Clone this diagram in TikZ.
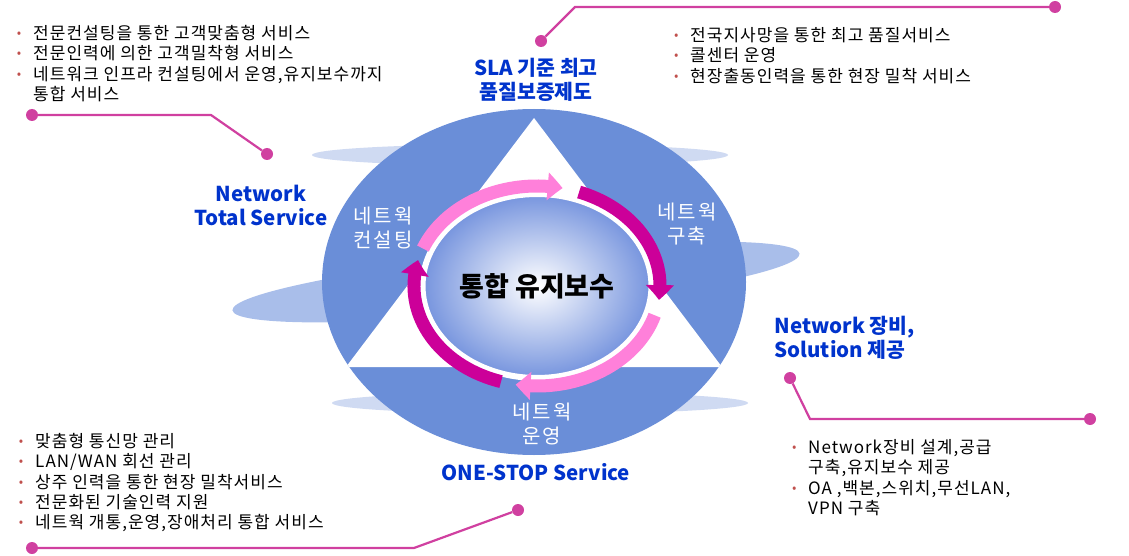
\documentclass[tikz,border=0pt]{standalone}
\usepackage{fontspec}
\setmainfont{Noto Sans CJK KR}
\newfontfamily\widefont[LetterSpace=6]{Noto Sans CJK KR}
\newfontfamily\labelfont[LetterSpace=10]{Noto Sans CJK KR}
\usetikzlibrary{shapes.geometric,arrows.meta,bending}
\definecolor{ringblue}{RGB}{106,142,216}
\definecolor{swooshblue}{RGB}{169,190,234}
\definecolor{paleblue}{RGB}{207,218,242}
\definecolor{corefade}{RGB}{118,148,222}
\definecolor{lightpink}{RGB}{255,128,218}
\definecolor{deepmagenta}{RGB}{204,0,153}
\definecolor{headblue}{RGB}{0,51,204}
\definecolor{calloutpink}{RGB}{208,64,160}
\definecolor{bulletred}{RGB}{192,80,77}
\newcommand\bul{\makebox[28pt]{\raisebox{2pt}{\textcolor{bulletred}{\fontsize{13}{13}\selectfont •}}}}
\begin{document}
\begin{tikzpicture}[x=1pt,y=-1pt,
  dot/.style={circle,fill=calloutpink,inner sep=0pt,minimum size=12pt},
  callout/.style={draw=calloutpink,line width=2.2pt},
  heading/.style={text=headblue,font=\fontsize{20.5}{24}\selectfont\bfseries,align=center},
  onblue/.style={text=white,font=\labelfont\fontsize{20}{24}\selectfont,align=center},
  bullets/.style={anchor=north west,inner sep=0pt,font=\widefont\fontsize{17}{20.3}\selectfont},
  cycarrow/.style={line width=13pt,-{Triangle[width=27pt,length=15pt,bend]}}]
\useasboundingbox (0,0) rectangle (1129,556);
% flat swooshes behind the ring
\fill[paleblue] (520,155) ellipse[x radius=208,y radius=11];
\fill[paleblue] (540,403) ellipse[x radius=208,y radius=11];
\fill[swooshblue,rotate around={5.7:(516,282)}] (516,282) ellipse[x radius=285,y radius=29];
\fill[ringblue] (534,282) ellipse[x radius=212,y radius=173];
\begin{scope}
\clip (534,282) ellipse[x radius=212,y radius=173];
\fill[white] (534,118) -- (346,367) -- (722,367) -- cycle;
\end{scope}
\node[ellipse,minimum width=226pt,minimum height=184pt,draw=white,line width=6pt,
      inner color=white,outer color=corefade,font=\fontsize{27}{30}\selectfont\bfseries]
      (core) at (537,286) {통합 유지보수};
\draw[cycarrow,lightpink] ([shift={(-158:123 and 100)}]core.center) arc[start angle=-158,end angle=-78,x radius=123,y radius=100];
\draw[cycarrow,deepmagenta] ([shift={(-70:123 and 100)}]core.center) arc[start angle=-70,end angle=8,x radius=123,y radius=100];
\draw[cycarrow,lightpink] ([shift={(17:123 and 100)}]core.center) arc[start angle=17,end angle=100,x radius=123,y radius=100];
\draw[cycarrow,deepmagenta] ([shift={(107:123 and 100)}]core.center) arc[start angle=107,end angle=195,x radius=123,y radius=100];
\path (383,228) node[onblue] (consult) {네트웍\\컨설팅}
      (687,224) node[onblue] (build) {네트웍\\구축}
      (542,424) node[onblue] (operate) {네트웍\\운영};
\path (536,80) node[heading] (sla) {SLA 기준 최고\\품질보증제도}
      (261,205) node[heading] (total) {Network\\Total Service}
      (771,338) node[heading,align=left,anchor=west] (equip) {Network 장비,\\Solution 제공}
      (536,472) node[heading] (onestop) {ONE-STOP Service};
\path (5,25) node[bullets] (consultlist) {\begin{tabular}{@{}l@{}l@{}}
        \bul & 전문컨설팅을 통한 고객맞춤형 서비스\\
        \bul & 전문인력에 의한 고객밀착형 서비스\\
        \bul & 네트워크 인프라 컨설팅에서 운영,유지보수까지\\
             & 통합 서비스
      \end{tabular}}
      (662,27) node[bullets] (slalist) {\begin{tabular}{@{}l@{}l@{}}
        \bul & 전국지사망을 통한 최고 품질서비스\\
        \bul & 콜센터 운영\\
        \bul & 현장출동인력을 통한 현장 밀착 서비스
      \end{tabular}}
      (7,433) node[bullets] (operlist) {\begin{tabular}{@{}l@{}l@{}}
        \bul & 맞춤형 통신망 관리\\
        \bul & LAN/WAN 회선 관리\\
        \bul & 상주 인력을 통한 현장 밀착서비스\\
        \bul & 전문화된 기술인력 지원\\
        \bul & 네트웍 개통,운영,장애처리 통합 서비스
      \end{tabular}}
      (780,439) node[bullets] (equiplist) {\begin{tabular}{@{}l@{}l@{}}
        \bul & Network장비 설계,공급\\
             & 구축,유지보수 제공\\
        \bul & OA ,백본,스위치,무선LAN,\\
             & VPN 구축
      \end{tabular}};
% callout leaders
\path (32,115) node[dot] (tl1) {} (267,154) node[dot] (tl2) {}
      (541,41) node[dot] (tp1) {} (1055,7) node[dot] (tp2) {}
      (790,378) node[dot] (rt1) {} (1090,419) node[dot] (rt2) {}
      (32,548) node[dot] (bl1) {} (518,510) node[dot] (bl2) {};
\coordinate (tlk) at (211,115);
\coordinate (tpk) at (575,7);
\coordinate (rtk) at (810,419);
\coordinate (blk) at (414,548);
\draw[callout] (tl1) -- (tlk) -- (tl2);
\draw[callout] (tp1) -- (tpk) -- (tp2);
\draw[callout] (rt1) -- (rtk) -- (rt2);
\draw[callout] (bl1) -- (blk) -- (bl2);
\end{tikzpicture}
\end{document}
